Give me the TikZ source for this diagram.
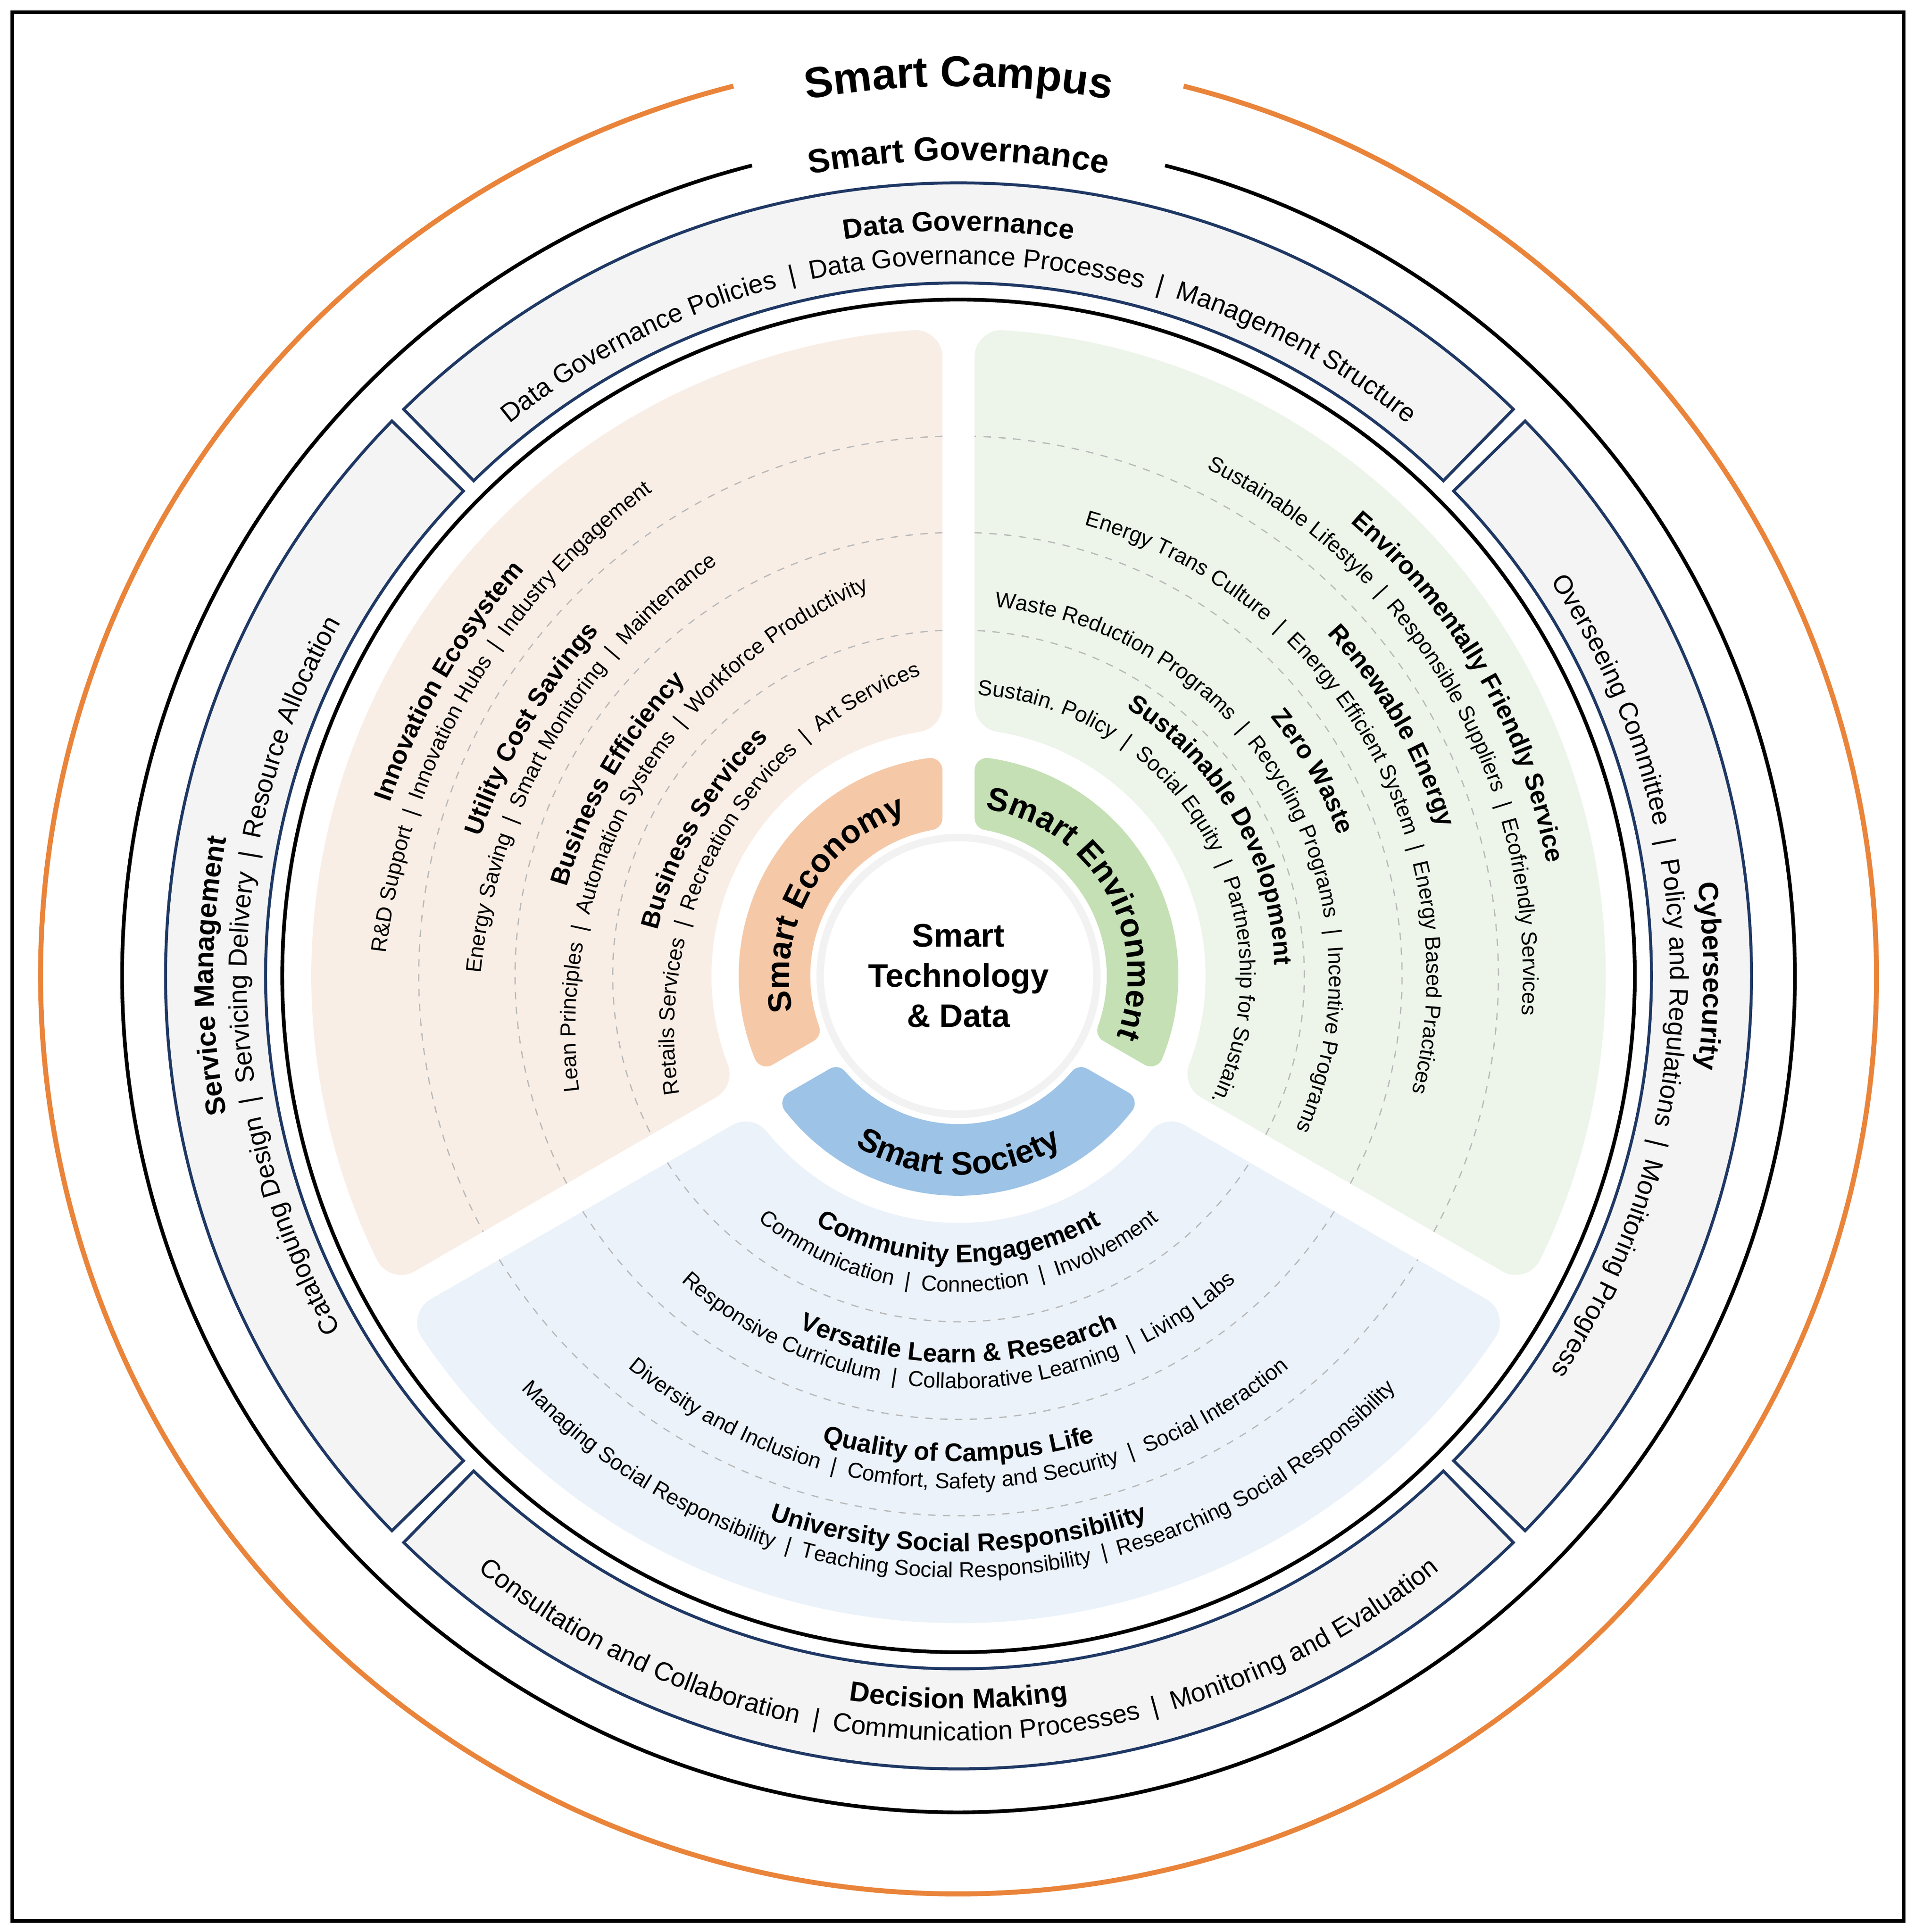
\documentclass[tikz,border=0pt]{standalone}
\usepackage{fontspec}
\setmainfont{Liberation Sans}
\usetikzlibrary{decorations.text}
\definecolor{econS}{HTML}{F9EEE6}\definecolor{econB}{HTML}{F5C9A8}
\definecolor{envS}{HTML}{EDF5EA}\definecolor{envB}{HTML}{C5E0B4}
\definecolor{socS}{HTML}{EBF2FA}\definecolor{socB}{HTML}{9DC3E6}
\definecolor{boxF}{HTML}{F4F4F4}\definecolor{navy}{HTML}{1F3864}
\definecolor{orng}{HTML}{E9843A}
\newcommand\SEP{\hbox to 1.3em{\hfil|\hfil}}
\newcommand\cwtext[4]{\path[shift={#1},decorate,decoration={text along path,text format delimiters={[}{]},text align=center,text={#4}}] ({#3+75}:#2) arc[start angle={#3+75},end angle={#3-75},radius=#2];}
\newcommand\ccwtext[4]{\path[shift={#1},decorate,decoration={text along path,text format delimiters={[}{]},text align=center,text={#4}}] ({#3-75}:#2) arc[start angle={#3-75},end angle={#3+75},radius=#2];}
% rounded sector: ray1, ray2, Rout', Rin', w', style
\newcommand\rsector[6]{\filldraw[#6] ({#1+asin(#5/#3)}:#3) arc[start angle={#1+asin(#5/#3)},end angle={#2-asin(#5/#3)},radius=#3] -- ({#2-asin(#5/#4)}:#4) arc[start angle={#2-asin(#5/#4)},end angle={#1+asin(#5/#4)},radius=#4] -- cycle;}
\newcommand\dasharc[3]{\draw[dashline] ({#1+asin(13/#3)}:#3) arc[start angle={#1+asin(13/#3)},end angle={#2-asin(13/#3)},radius=#3];}
\newcommand\govbox[1]{\filldraw[govbox] ({#1-44.4}:561) arc[start angle={#1-44.4},end angle={#1+44.4},radius=561] -- ({#1+44.4}:642) arc[start angle={#1+44.4},end angle={#1-44.4},radius=642] -- cycle;}
\newcommand\Tb{\bfseries\fontsize{10.3}{12}\selectfont}
\newcommand\Ti{\fontsize{8.8}{10}\selectfont}
\newcommand\Gb{\bfseries\fontsize{11.3}{13}\selectfont}
\newcommand\Gi{\fontsize{10.6}{12}\selectfont}
\newcommand\Bb{\bfseries\fontsize{13.2}{15}\selectfont}
\tikzset{dashline/.style={draw=gray!55,dashed,line width=0.5pt},
 govbox/.style={fill=boxF,draw=navy,line width=1.2pt}}
\begin{document}
\begin{tikzpicture}[x=0.5pt,y=0.5pt]
\useasboundingbox (-776,-774) rectangle (774,790);
\draw[line width=1.5pt] (-766,-765) rectangle (765,780);
% outer rings
\draw[orng,line width=2pt] (104.2:743) arc[start angle=104.2,end angle=435.8,radius=743];
\draw[line width=1.5pt] (104.3:677) arc[start angle=104.3,end angle=435.7,radius=677];
\govbox{90}\govbox{180}\govbox{0}\govbox{270}
\draw[line width=1.5pt] (0,0) circle[radius=547.5];
% sectors
\rsector{90}{210}{502}{222}{35}{econS,line width=22pt,line join=round}
\rsector{-30}{90}{502}{222}{35}{envS,line width=22pt,line join=round}
\rsector{210}{330}{502}{222}{35}{socS,line width=22pt,line join=round}
\foreach \r in {280,359,437}{\dasharc{90}{210}{\r}\dasharc{-30}{90}{\r}\dasharc{210}{330}{\r}}
% bands
\rsector{90}{210}{168}{130}{23}{econB,line width=10pt,line join=round}
\rsector{-30}{90}{168}{130}{23}{envB,line width=10pt,line join=round}
\rsector{210}{330}{168}{130}{23}{socB,line width=10pt,line join=round}
\draw[gray!10,line width=3pt,fill=white] (0,0) circle[radius=112];
\node[align=center,font=\bfseries\fontsize{13.2}{16.3}\selectfont] (core) at (0,0) {Smart\\Technology\\\& Data};
% titles
\cwtext{(0,0)}{720}{90}{[\bfseries\fontsize{17.5}{19}\selectfont]Smart Campus}
\cwtext{(0,0)}{660}{90}{[\bfseries\fontsize{13.6}{15}\selectfont]Smart Governance}
% governance boxes
\cwtext{(0,0)}{603}{90}{[\Gb]Data Governance}
\cwtext{(0,0)}{576}{90}{[\Gi]Data Governance Policies{\SEP}Data Governance Processes{\SEP}Management Structure}
\cwtext{(0,0)}{603}{180}{[\Gb]Service Management}
\cwtext{(0,0)}{576}{180}{[\Gi]Cataloguing Design{\SEP}Servicing Delivery{\SEP}Resource Allocation}
\cwtext{(0,0)}{603}{0}{[\Gb]Cybersecurity}
\cwtext{(0,0)}{576}{0}{[\Gi]Overseeing Committee{\SEP}Policy and Regulations{\SEP}Monitoring Progress}
\ccwtext{(0,0)}{593}{270}{[\Gb]Decision Making}
\ccwtext{(0,0)}{619}{270}{[\Gi]Consultation and Collaboration{\SEP}Communication Processes{\SEP}Monitoring and Evaluation}
% band labels
\cwtext{(0,0)}{137}{150}{[\Bb]Smart Economy}
\cwtext{(0,0)}{137}{30}{[\Bb]Smart Environment}
\ccwtext{(0,0)}{161}{270}{[\Bb]Smart Society}
% economy
\cwtext{(330:90)}{569}{150}{[\Tb]Innovation Ecosystem}
\cwtext{(330:90)}{545}{150}{[\Ti]R{\&}D Support{\SEP}Innovation Hubs{\SEP}Industry Engagement}
\cwtext{(330:90)}{491}{150}{[\Tb]Utility Cost Savings}
\cwtext{(330:90)}{467}{150}{[\Ti]Energy Saving{\SEP}Smart Monitoring{\SEP}Maintenance}
\cwtext{(330:90)}{412}{150}{[\Tb]Business Efficiency}
\cwtext{(330:90)}{388}{150}{[\Ti]Lean Principles{\SEP}Automation Systems{\SEP}Workforce Productivity}
\cwtext{(330:90)}{332}{150}{[\Tb]Business Services}
\cwtext{(330:90)}{308}{150}{[\Ti]Retails Services{\SEP}Recreation Services{\SEP}Art Services}
% environment
\cwtext{(0,0)}{485}{30}{[\Tb]Environmentally Friendly Service}
\cwtext{(0,0)}{457}{30}{[\Ti]Sustainable Lifestyle{\SEP}Responsible Suppliers{\SEP}Ecofriendly Services}
\cwtext{(0,0)}{407}{30}{[\Tb]Renewable Energy}
\cwtext{(0,0)}{379}{30}{[\Ti]Energy Trans Culture{\SEP}Energy Efficient System{\SEP}Energy Based Practices}
\cwtext{(0,0)}{328}{30}{[\Tb]Zero Waste}
\cwtext{(0,0)}{300}{30}{[\Ti]Waste Reduction Programs{\SEP}Recycling Programs{\SEP}Incentive Programs}
\cwtext{(0,0)}{256}{30}{[\Tb]Sustainable Development}
\cwtext{(0,0)}{228}{30}{[\Ti]Sustain. Policy{\SEP}Social Equity{\SEP}Partnership for Sustain.}
% society
\ccwtext{(0,0)}{232}{270}{[\Tb]Community Engagement}
\ccwtext{(0,0)}{256}{270}{[\Ti]Communication{\SEP}Connection{\SEP}Involvement}
\ccwtext{(0,0)}{313}{270}{[\Tb]Versatile Learn {\&} Research}
\ccwtext{(0,0)}{334}{270}{[\Ti]Responsive Curriculum{\SEP}Collaborative Learning{\SEP}Living Labs}
\ccwtext{(0,0)}{393}{270}{[\Tb]Quality of Campus Life}
\ccwtext{(0,0)}{415}{270}{[\Ti]Diversity and Inclusion{\SEP}Comfort, Safety and Security{\SEP}Social Interaction}
\ccwtext{(0,0)}{466}{270}{[\Tb]University Social Responsibility}
\ccwtext{(0,0)}{487}{270}{[\Ti]Managing Social Responsibility{\SEP}Teaching Social Responsibility{\SEP}Researching Social Responsibility}
\end{tikzpicture}
\end{document}
